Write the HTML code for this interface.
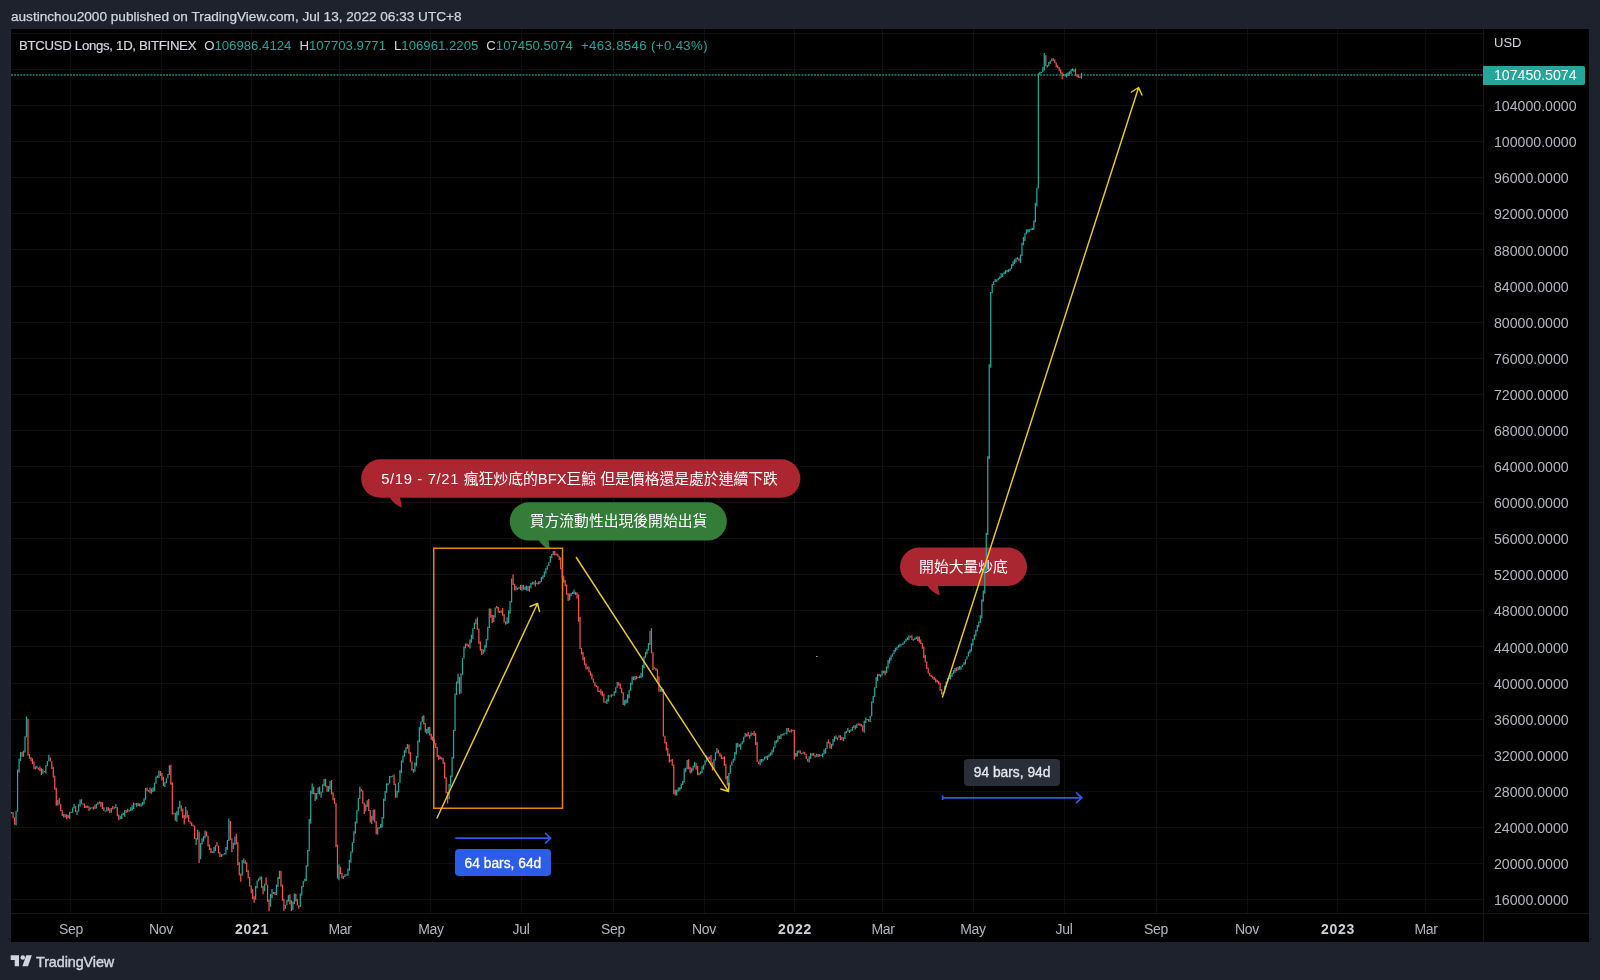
<!DOCTYPE html>
<html><head><meta charset="utf-8"><title>BTCUSD Longs</title>
<style>
html,body{margin:0;padding:0;background:#1e222d;}
body>div{will-change:transform;}
body{width:1600px;height:980px;position:relative;overflow:hidden;font-family:"Liberation Sans","Noto Sans CJK TC",sans-serif;color:#d1d4dc;}
#hdr{position:absolute;left:11px;top:8px;font-size:13.6px;line-height:17px;color:#d1d4dc;white-space:nowrap;-webkit-text-stroke:0.25px #d1d4dc;}
#chart{position:absolute;left:11px;top:29px;width:1578px;height:913px;background:#000;}
svg{position:absolute;left:0;top:0;}
#legend{position:absolute;left:19px;top:37px;font-size:13.2px;line-height:17px;white-space:nowrap;color:#d1d4dc;}
#legend b{font-weight:normal;color:#26a69a;}
#legend i{font-style:normal;margin-left:8px;}
#legend u{text-decoration:none;letter-spacing:-0.29px;-webkit-text-stroke:0.2px #d1d4dc;}
#legend b.w{letter-spacing:0.38px;}
.pl{position:absolute;left:1494px;font-size:14.15px;line-height:20px;color:#b2b5be;white-space:nowrap;}
.tl{position:absolute;top:919px;width:60px;text-align:center;font-size:14px;letter-spacing:-0.35px;line-height:20px;color:#b2b5be;}
.tl.b{font-weight:bold;color:#cdd0d8;letter-spacing:0.7px;}
#usd{position:absolute;left:1494px;top:33px;font-size:13px;line-height:20px;color:#d1d4dc;}
#cur{position:absolute;left:1483px;top:65.5px;width:102.3px;height:18.5px;background:#26a69a;border-radius:0 2px 2px 0;color:#fff;font-size:14.15px;line-height:19px;text-indent:11px;}
.co{position:absolute;color:#fff;font-size:14.8px;white-space:nowrap;text-align:center;border-radius:20px;}
#c1{left:359.6px;top:459.3px;width:439px;height:38.5px;line-height:40.5px;}
#c1 u{text-decoration:none;letter-spacing:0.65px;}
#c2{left:510px;top:502.2px;width:217px;height:38.5px;line-height:39px;}
#c3{left:900px;top:547.5px;width:127px;height:38.5px;line-height:38.5px;}
#b64{position:absolute;left:455.4px;top:849.4px;width:95.8px;height:26.8px;border-radius:4px;background:#2b5de8;color:#fff;font-size:13.8px;-webkit-text-stroke:0.3px #fff;line-height:29.6px;text-align:center;}
#b94{position:absolute;left:964px;top:759px;width:96.2px;height:26.9px;border-radius:4px;background:#2a2e39;color:#e6e8ee;font-size:13.8px;-webkit-text-stroke:0.3px #e6e8ee;line-height:28px;text-align:center;}
#tv{position:absolute;left:35.6px;top:952.5px;font-size:14.4px;line-height:19px;color:#d1d4dc;-webkit-text-stroke:0.45px #d1d4dc;letter-spacing:-0.1px;}
</style></head><body>
<div id="hdr">austinchou2000 published on TradingView.com, Jul 13, 2022 06:33 UTC+8</div>
<div id="chart"></div>
<svg width="1600" height="980" viewBox="0 0 1600 980">
<g stroke="#0f0f0f" stroke-width="1" fill="none" shape-rendering="crispEdges"><path d="M70.5 29V913.5"/><path d="M161.5 29V913.5"/><path d="M251.5 29V913.5"/><path d="M339.5 29V913.5"/><path d="M430.5 29V913.5"/><path d="M521.5 29V913.5"/><path d="M613.5 29V913.5"/><path d="M704.5 29V913.5"/><path d="M794.5 29V913.5"/><path d="M882.5 29V913.5"/><path d="M973.5 29V913.5"/><path d="M1064.5 29V913.5"/><path d="M1156.5 29V913.5"/><path d="M1247.5 29V913.5"/><path d="M1337.5 29V913.5"/><path d="M1425.5 29V913.5"/><path d="M11 33.5H1483.5"/><path d="M11 69.5H1483.5"/><path d="M11 105.5H1483.5"/><path d="M11 141.5H1483.5"/><path d="M11 177.5H1483.5"/><path d="M11 213.5H1483.5"/><path d="M11 249.5H1483.5"/><path d="M11 286.5H1483.5"/><path d="M11 322.5H1483.5"/><path d="M11 358.5H1483.5"/><path d="M11 394.5H1483.5"/><path d="M11 430.5H1483.5"/><path d="M11 466.5H1483.5"/><path d="M11 502.5H1483.5"/><path d="M11 538.5H1483.5"/><path d="M11 574.5H1483.5"/><path d="M11 610.5H1483.5"/><path d="M11 646.5H1483.5"/><path d="M11 683.5H1483.5"/><path d="M11 719.5H1483.5"/><path d="M11 755.5H1483.5"/><path d="M11 791.5H1483.5"/><path d="M11 827.5H1483.5"/><path d="M11 863.5H1483.5"/><path d="M11 899.5H1483.5"/></g>
<g stroke="#171717" stroke-width="1" fill="none" shape-rendering="crispEdges"><path d="M1483.5 29V942"/><path d="M11 913.5H1589"/></g>
<path d="M11 75H1483.5" stroke="#26a69a" stroke-width="1.6" stroke-dasharray="2 1.1" stroke-opacity=".8" fill="none"/>
<rect x="361.2" y="459.3" width="439.2" height="38.5" rx="19.25" fill="#ab2631"/><rect x="509.8" y="502.2" width="217" height="38.4" rx="19.2" fill="#347d39"/><rect x="900" y="547.5" width="127" height="38.5" rx="19.25" fill="#ab2631"/>
<path fill="#ab2631" d="M389.7 497.3C392.5 502.5 396.5 505.5 402 507.5L400 497.3z"/>
<path fill="#347d39" d="M538.6 540C541 544.5 545 547.6 550 549.7L548.4 540z"/>
<path fill="#ab2631" d="M927.5 585.5C930 590 934 593.3 939.7 595.4L938 585.5z"/>
<rect x="816.3" y="656" width="1.2" height="1" fill="#ddd"/>
<g fill="#d1d4dc"><path d="M10.7 955.2H19V966.2H14.7V960H10.7z"/><circle cx="22.8" cy="957.5" r="2.25"/><path d="M26.3 955.2H31.8L28 966.2H22.4z"/></g>
</svg>
<div class="co" id="c1"><u>5/19 - 7/21 </u>瘋狂炒底的BFX巨鯨 但是價格還是處於連續下跌</div>
<div class="co" id="c2">買方流動性出現後開始出貨</div>
<div class="co" id="c3">開始大量炒底</div>
<svg width="1600" height="980" viewBox="0 0 1600 980">
<rect x="433.75" y="548.25" width="128.75" height="260" fill="none" stroke="#e2880f" stroke-width="1.5"/>
<path fill="#26a69a" d="M11.00 811.89h1.25V813.87h-1.25zM15.46 810.68h1.25V825.22h-1.25zM16.95 769.39h1.25V811.76h-1.25zM18.44 758.65h1.25V772.51h-1.25zM19.93 751.94h1.25V761.05h-1.25zM22.90 750.68h1.25V756.69h-1.25zM24.39 736.15h1.25V752.59h-1.25zM25.88 716.61h1.25V737.23h-1.25zM34.81 766.41h1.25V769.40h-1.25zM36.30 765.64h1.25V768.43h-1.25zM42.25 769.21h1.25V773.66h-1.25zM45.22 765.37h1.25V773.38h-1.25zM46.71 761.09h1.25V766.15h-1.25zM48.20 754.87h1.25V761.41h-1.25zM57.13 799.95h1.25V805.60h-1.25zM64.57 814.35h1.25V817.58h-1.25zM69.03 811.69h1.25V818.64h-1.25zM72.01 807.41h1.25V812.84h-1.25zM73.50 804.07h1.25V808.18h-1.25zM76.47 810.60h1.25V814.92h-1.25zM77.96 804.37h1.25V811.54h-1.25zM79.45 799.57h1.25V806.59h-1.25zM82.42 803.55h1.25V804.77h-1.25zM89.86 807.43h1.25V809.55h-1.25zM92.84 806.39h1.25V809.81h-1.25zM95.82 803.83h1.25V808.42h-1.25zM97.30 802.09h1.25V804.83h-1.25zM104.74 810.44h1.25V811.68h-1.25zM106.23 806.66h1.25V811.44h-1.25zM110.70 808.02h1.25V812.63h-1.25zM113.67 806.96h1.25V808.75h-1.25zM115.16 804.31h1.25V808.26h-1.25zM119.62 815.76h1.25V819.21h-1.25zM121.11 813.82h1.25V818.90h-1.25zM122.60 812.72h1.25V815.36h-1.25zM124.09 810.05h1.25V816.65h-1.25zM127.06 808.87h1.25V812.24h-1.25zM130.04 807.32h1.25V810.95h-1.25zM131.53 805.32h1.25V810.55h-1.25zM133.02 802.39h1.25V809.05h-1.25zM135.99 803.08h1.25V806.71h-1.25zM140.46 803.41h1.25V806.72h-1.25zM141.94 801.99h1.25V805.39h-1.25zM143.43 798.35h1.25V804.35h-1.25zM144.92 787.93h1.25V799.66h-1.25zM147.90 790.08h1.25V791.85h-1.25zM150.87 788.55h1.25V793.73h-1.25zM152.36 787.58h1.25V791.93h-1.25zM153.85 782.76h1.25V791.19h-1.25zM155.34 776.51h1.25V783.70h-1.25zM156.82 775.62h1.25V777.85h-1.25zM158.31 770.43h1.25V777.98h-1.25zM164.26 782.29h1.25V787.08h-1.25zM165.75 778.18h1.25V783.32h-1.25zM167.24 773.99h1.25V778.52h-1.25zM168.73 765.28h1.25V775.10h-1.25zM173.19 812.63h1.25V814.26h-1.25zM176.17 811.31h1.25V821.84h-1.25zM177.66 806.82h1.25V815.24h-1.25zM179.14 800.82h1.25V808.46h-1.25zM185.10 806.81h1.25V818.74h-1.25zM195.51 838.03h1.25V845.00h-1.25zM197.00 829.84h1.25V839.73h-1.25zM199.98 842.97h1.25V859.35h-1.25zM201.46 838.34h1.25V844.62h-1.25zM202.95 836.37h1.25V841.57h-1.25zM204.44 830.61h1.25V838.13h-1.25zM211.88 851.21h1.25V853.02h-1.25zM213.37 847.01h1.25V853.22h-1.25zM214.86 845.27h1.25V851.34h-1.25zM220.81 854.05h1.25V857.07h-1.25zM222.30 854.31h1.25V855.51h-1.25zM223.78 853.10h1.25V854.40h-1.25zM225.27 847.07h1.25V854.61h-1.25zM226.76 840.07h1.25V849.65h-1.25zM228.25 818.59h1.25V840.89h-1.25zM232.71 842.79h1.25V849.04h-1.25zM234.20 836.59h1.25V845.04h-1.25zM241.64 860.19h1.25V875.81h-1.25zM243.13 858.39h1.25V863.26h-1.25zM255.03 885.94h1.25V899.69h-1.25zM256.52 880.47h1.25V888.33h-1.25zM258.01 878.30h1.25V881.20h-1.25zM259.50 876.62h1.25V879.67h-1.25zM263.96 883.77h1.25V891.22h-1.25zM269.91 894.00h1.25V906.71h-1.25zM271.40 889.08h1.25V897.94h-1.25zM275.86 884.44h1.25V895.27h-1.25zM277.35 876.95h1.25V887.01h-1.25zM278.84 870.69h1.25V879.05h-1.25zM284.79 904.65h1.25V908.74h-1.25zM286.28 899.88h1.25V905.23h-1.25zM287.77 895.32h1.25V901.54h-1.25zM292.23 901.52h1.25V909.97h-1.25zM293.72 893.42h1.25V903.93h-1.25zM299.67 893.62h1.25V907.00h-1.25zM301.16 885.89h1.25V895.63h-1.25zM302.65 881.08h1.25V887.03h-1.25zM304.14 878.85h1.25V881.41h-1.25zM305.62 865.17h1.25V880.89h-1.25zM307.11 850.05h1.25V866.63h-1.25zM308.60 819.05h1.25V851.25h-1.25zM310.09 790.45h1.25V823.81h-1.25zM311.58 783.55h1.25V793.98h-1.25zM316.04 792.94h1.25V799.58h-1.25zM317.53 787.57h1.25V793.72h-1.25zM320.50 791.67h1.25V797.69h-1.25zM321.99 784.37h1.25V792.43h-1.25zM323.48 779.10h1.25V785.96h-1.25zM327.94 786.06h1.25V791.83h-1.25zM329.43 780.99h1.25V789.27h-1.25zM338.36 864.48h1.25V880.29h-1.25zM342.82 876.08h1.25V879.05h-1.25zM344.31 874.19h1.25V877.08h-1.25zM345.80 874.19h1.25V875.39h-1.25zM347.29 868.55h1.25V876.00h-1.25zM348.78 859.86h1.25V870.73h-1.25zM350.26 851.49h1.25V862.69h-1.25zM351.75 842.18h1.25V852.62h-1.25zM353.24 831.22h1.25V843.08h-1.25zM354.73 821.39h1.25V833.61h-1.25zM356.22 810.20h1.25V823.41h-1.25zM357.70 798.10h1.25V811.24h-1.25zM359.19 786.87h1.25V799.24h-1.25zM365.14 804.49h1.25V811.39h-1.25zM366.63 800.33h1.25V807.03h-1.25zM371.10 815.96h1.25V824.07h-1.25zM372.58 809.82h1.25V820.54h-1.25zM377.05 827.65h1.25V834.69h-1.25zM378.54 827.12h1.25V828.73h-1.25zM380.02 823.90h1.25V827.76h-1.25zM381.51 817.08h1.25V827.68h-1.25zM383.00 798.75h1.25V818.43h-1.25zM384.49 791.06h1.25V800.91h-1.25zM385.98 783.13h1.25V792.75h-1.25zM387.46 783.32h1.25V785.25h-1.25zM388.95 775.98h1.25V783.59h-1.25zM390.44 775.93h1.25V777.59h-1.25zM391.93 775.62h1.25V776.82h-1.25zM396.39 790.72h1.25V797.70h-1.25zM397.88 782.60h1.25V792.59h-1.25zM399.37 770.09h1.25V782.74h-1.25zM400.86 760.57h1.25V773.20h-1.25zM402.34 755.50h1.25V762.53h-1.25zM403.83 750.24h1.25V756.87h-1.25zM405.32 747.25h1.25V752.70h-1.25zM406.81 744.09h1.25V748.72h-1.25zM412.76 769.01h1.25V772.79h-1.25zM414.25 762.48h1.25V771.72h-1.25zM415.74 756.01h1.25V766.29h-1.25zM417.22 740.53h1.25V757.78h-1.25zM418.71 726.80h1.25V742.16h-1.25zM420.20 721.43h1.25V730.37h-1.25zM421.69 716.24h1.25V722.00h-1.25zM426.15 728.91h1.25V734.06h-1.25zM427.64 727.00h1.25V733.31h-1.25zM441.03 757.22h1.25V759.59h-1.25zM448.47 784.04h1.25V799.24h-1.25zM449.96 775.56h1.25V786.80h-1.25zM451.45 756.93h1.25V777.14h-1.25zM452.94 729.68h1.25V758.62h-1.25zM454.42 693.62h1.25V731.09h-1.25zM455.91 681.62h1.25V695.09h-1.25zM457.40 673.80h1.25V683.79h-1.25zM460.38 673.43h1.25V693.53h-1.25zM461.86 657.94h1.25V674.66h-1.25zM463.35 646.60h1.25V658.57h-1.25zM464.84 643.48h1.25V648.57h-1.25zM469.30 639.49h1.25V648.58h-1.25zM470.79 634.85h1.25V642.80h-1.25zM472.28 628.31h1.25V638.97h-1.25zM473.77 622.42h1.25V628.95h-1.25zM475.26 619.17h1.25V624.20h-1.25zM482.70 649.58h1.25V653.65h-1.25zM484.18 645.00h1.25V651.72h-1.25zM485.67 638.91h1.25V647.86h-1.25zM487.16 626.78h1.25V640.15h-1.25zM488.65 608.57h1.25V628.03h-1.25zM493.11 615.13h1.25V621.98h-1.25zM494.60 607.42h1.25V617.45h-1.25zM500.55 610.15h1.25V613.02h-1.25zM505.02 621.57h1.25V624.72h-1.25zM506.50 617.41h1.25V623.96h-1.25zM507.99 610.15h1.25V623.00h-1.25zM509.48 600.89h1.25V613.70h-1.25zM510.97 578.41h1.25V602.53h-1.25zM515.43 585.88h1.25V590.36h-1.25zM518.41 587.12h1.25V588.87h-1.25zM521.38 584.88h1.25V590.66h-1.25zM524.36 586.55h1.25V590.09h-1.25zM525.85 585.56h1.25V590.60h-1.25zM528.82 585.68h1.25V591.70h-1.25zM530.31 583.10h1.25V588.15h-1.25zM531.80 581.78h1.25V584.42h-1.25zM534.78 580.22h1.25V586.52h-1.25zM536.26 582.82h1.25V584.02h-1.25zM539.24 581.36h1.25V583.69h-1.25zM540.73 577.07h1.25V581.95h-1.25zM542.22 575.28h1.25V579.25h-1.25zM543.70 571.53h1.25V577.01h-1.25zM545.19 568.32h1.25V573.81h-1.25zM546.68 565.49h1.25V569.63h-1.25zM548.17 562.16h1.25V566.02h-1.25zM549.66 556.09h1.25V562.73h-1.25zM551.14 553.90h1.25V558.13h-1.25zM552.63 551.00h1.25V554.94h-1.25zM569.00 593.62h1.25V600.19h-1.25zM570.49 593.12h1.25V596.24h-1.25zM571.98 591.82h1.25V594.01h-1.25zM573.46 589.40h1.25V593.94h-1.25zM586.86 666.63h1.25V669.13h-1.25zM606.20 699.26h1.25V704.10h-1.25zM607.69 695.08h1.25V701.78h-1.25zM610.66 694.21h1.25V697.42h-1.25zM613.64 691.23h1.25V695.87h-1.25zM615.13 687.29h1.25V692.94h-1.25zM616.62 681.94h1.25V687.85h-1.25zM624.06 700.00h1.25V705.65h-1.25zM625.54 699.26h1.25V703.41h-1.25zM627.03 694.21h1.25V702.70h-1.25zM628.52 689.81h1.25V698.37h-1.25zM630.01 682.84h1.25V690.75h-1.25zM631.50 676.41h1.25V684.75h-1.25zM634.47 675.91h1.25V680.21h-1.25zM637.45 676.92h1.25V678.12h-1.25zM638.94 675.60h1.25V678.28h-1.25zM640.42 672.68h1.25V678.21h-1.25zM641.91 664.95h1.25V676.97h-1.25zM643.40 656.51h1.25V668.01h-1.25zM644.89 651.77h1.25V657.84h-1.25zM646.38 649.27h1.25V654.32h-1.25zM647.86 642.89h1.25V650.53h-1.25zM649.35 630.82h1.25V644.97h-1.25zM659.77 688.74h1.25V691.77h-1.25zM676.14 789.80h1.25V795.38h-1.25zM677.62 787.46h1.25V791.65h-1.25zM679.11 787.37h1.25V790.87h-1.25zM680.60 783.48h1.25V788.92h-1.25zM682.09 780.94h1.25V785.00h-1.25zM683.58 768.51h1.25V782.55h-1.25zM685.06 767.63h1.25V772.15h-1.25zM686.55 760.03h1.25V769.30h-1.25zM691.02 768.16h1.25V772.70h-1.25zM692.50 765.82h1.25V770.70h-1.25zM693.99 761.98h1.25V767.50h-1.25zM699.94 771.17h1.25V774.28h-1.25zM701.43 766.19h1.25V772.97h-1.25zM702.92 764.75h1.25V769.45h-1.25zM704.41 760.57h1.25V765.49h-1.25zM705.90 755.61h1.25V761.63h-1.25zM708.87 756.64h1.25V759.47h-1.25zM713.34 759.30h1.25V769.07h-1.25zM714.82 752.16h1.25V760.47h-1.25zM716.31 747.99h1.25V753.38h-1.25zM728.22 772.89h1.25V783.81h-1.25zM729.70 765.11h1.25V773.80h-1.25zM731.19 761.52h1.25V765.83h-1.25zM732.68 758.83h1.25V762.48h-1.25zM734.17 751.92h1.25V760.47h-1.25zM735.66 743.37h1.25V754.45h-1.25zM737.14 742.74h1.25V747.38h-1.25zM740.12 743.53h1.25V749.80h-1.25zM741.61 741.32h1.25V744.22h-1.25zM743.10 736.74h1.25V742.62h-1.25zM744.58 733.09h1.25V737.53h-1.25zM749.05 734.93h1.25V738.67h-1.25zM750.54 732.31h1.25V736.13h-1.25zM759.46 759.19h1.25V765.18h-1.25zM760.95 758.94h1.25V762.49h-1.25zM762.44 759.01h1.25V761.24h-1.25zM763.93 756.64h1.25V759.78h-1.25zM765.42 756.05h1.25V758.43h-1.25zM766.90 755.43h1.25V759.88h-1.25zM768.39 754.19h1.25V757.21h-1.25zM769.88 752.38h1.25V755.88h-1.25zM771.37 749.63h1.25V754.87h-1.25zM772.86 746.86h1.25V752.15h-1.25zM774.34 740.82h1.25V747.65h-1.25zM775.83 740.25h1.25V743.23h-1.25zM777.32 735.48h1.25V742.06h-1.25zM780.30 734.33h1.25V739.23h-1.25zM781.78 734.01h1.25V735.52h-1.25zM783.27 732.97h1.25V735.55h-1.25zM786.25 728.03h1.25V734.61h-1.25zM790.71 729.23h1.25V732.46h-1.25zM795.18 753.01h1.25V757.12h-1.25zM796.66 750.67h1.25V756.32h-1.25zM798.15 750.20h1.25V752.69h-1.25zM801.13 752.94h1.25V754.14h-1.25zM802.62 751.73h1.25V753.56h-1.25zM808.57 756.14h1.25V762.58h-1.25zM810.06 753.06h1.25V758.87h-1.25zM816.01 753.84h1.25V756.75h-1.25zM818.98 754.30h1.25V756.59h-1.25zM820.47 754.71h1.25V755.91h-1.25zM821.96 753.23h1.25V757.34h-1.25zM823.45 749.39h1.25V754.60h-1.25zM824.94 747.96h1.25V753.54h-1.25zM826.42 741.68h1.25V748.72h-1.25zM830.89 744.05h1.25V748.92h-1.25zM832.38 739.03h1.25V745.74h-1.25zM833.86 736.22h1.25V741.71h-1.25zM836.84 737.45h1.25V740.20h-1.25zM838.33 735.14h1.25V737.82h-1.25zM842.79 737.36h1.25V741.18h-1.25zM844.28 731.83h1.25V739.32h-1.25zM845.77 731.01h1.25V733.17h-1.25zM847.26 727.90h1.25V731.79h-1.25zM850.23 729.40h1.25V731.76h-1.25zM851.72 726.66h1.25V730.42h-1.25zM854.70 725.27h1.25V729.55h-1.25zM856.18 723.69h1.25V727.92h-1.25zM863.62 720.77h1.25V732.66h-1.25zM865.11 717.40h1.25V723.01h-1.25zM866.60 718.89h1.25V720.09h-1.25zM869.58 715.87h1.25V721.91h-1.25zM871.06 701.39h1.25V716.26h-1.25zM872.55 695.89h1.25V702.91h-1.25zM874.04 687.34h1.25V696.99h-1.25zM875.53 677.07h1.25V688.02h-1.25zM877.02 674.04h1.25V681.01h-1.25zM879.99 674.60h1.25V677.15h-1.25zM881.48 670.46h1.25V675.64h-1.25zM885.94 666.46h1.25V673.34h-1.25zM887.43 659.93h1.25V668.58h-1.25zM888.92 657.56h1.25V663.50h-1.25zM890.41 655.18h1.25V660.53h-1.25zM891.90 653.39h1.25V656.85h-1.25zM893.38 650.01h1.25V654.09h-1.25zM894.87 647.74h1.25V651.71h-1.25zM896.36 646.85h1.25V650.10h-1.25zM897.85 644.64h1.25V647.70h-1.25zM899.34 643.64h1.25V647.02h-1.25zM900.82 644.35h1.25V645.55h-1.25zM902.31 642.50h1.25V644.88h-1.25zM903.80 640.70h1.25V643.77h-1.25zM905.29 638.63h1.25V641.85h-1.25zM906.78 637.32h1.25V640.06h-1.25zM908.26 635.35h1.25V640.20h-1.25zM912.73 639.09h1.25V640.65h-1.25zM914.22 637.78h1.25V640.11h-1.25zM915.70 636.58h1.25V639.00h-1.25zM942.49 692.03h1.25V695.13h-1.25zM943.98 685.73h1.25V692.85h-1.25zM945.46 681.42h1.25V687.12h-1.25zM946.95 678.07h1.25V682.43h-1.25zM948.44 676.72h1.25V678.93h-1.25zM949.93 674.69h1.25V679.54h-1.25zM951.42 673.09h1.25V676.69h-1.25zM952.90 670.03h1.25V673.67h-1.25zM954.39 668.00h1.25V672.87h-1.25zM957.37 666.87h1.25V670.49h-1.25zM958.86 666.07h1.25V669.66h-1.25zM960.34 666.44h1.25V669.80h-1.25zM961.83 664.80h1.25V666.89h-1.25zM963.32 662.16h1.25V665.27h-1.25zM964.81 659.28h1.25V664.55h-1.25zM966.30 656.22h1.25V659.54h-1.25zM967.78 651.46h1.25V656.50h-1.25zM969.27 649.31h1.25V653.24h-1.25zM970.76 643.15h1.25V651.39h-1.25zM972.25 638.91h1.25V645.86h-1.25zM973.74 634.39h1.25V639.68h-1.25zM975.22 629.83h1.25V636.50h-1.25zM976.71 625.12h1.25V631.44h-1.25zM978.20 621.59h1.25V627.36h-1.25zM979.69 615.25h1.25V623.12h-1.25zM981.18 599.56h1.25V618.47h-1.25zM982.66 590.46h1.25V601.87h-1.25zM984.15 568.40h1.25V593.75h-1.25zM985.64 532.86h1.25V571.97h-1.25zM987.13 456.23h1.25V535.11h-1.25zM988.62 364.28h1.25V459.10h-1.25zM990.10 291.97h1.25V367.75h-1.25zM991.59 283.99h1.25V293.32h-1.25zM993.08 281.15h1.25V285.09h-1.25zM994.57 278.89h1.25V282.12h-1.25zM996.06 279.49h1.25V281.84h-1.25zM997.54 278.01h1.25V280.36h-1.25zM999.03 276.47h1.25V278.82h-1.25zM1000.52 272.98h1.25V277.92h-1.25zM1002.01 273.48h1.25V276.88h-1.25zM1003.50 271.78h1.25V274.41h-1.25zM1004.98 270.26h1.25V273.89h-1.25zM1006.47 270.11h1.25V272.28h-1.25zM1007.96 269.15h1.25V272.16h-1.25zM1009.45 268.43h1.25V270.93h-1.25zM1010.94 264.05h1.25V269.10h-1.25zM1012.42 261.26h1.25V266.02h-1.25zM1013.91 259.16h1.25V264.12h-1.25zM1015.40 257.65h1.25V262.35h-1.25zM1019.86 254.60h1.25V262.98h-1.25zM1021.35 242.71h1.25V256.10h-1.25zM1022.84 236.93h1.25V245.14h-1.25zM1024.33 233.13h1.25V241.08h-1.25zM1025.82 229.58h1.25V234.14h-1.25zM1027.30 229.08h1.25V232.50h-1.25zM1028.79 229.29h1.25V231.79h-1.25zM1030.28 228.62h1.25V230.29h-1.25zM1031.77 227.95h1.25V229.90h-1.25zM1033.26 220.53h1.25V229.89h-1.25zM1034.74 202.67h1.25V222.24h-1.25zM1036.23 187.81h1.25V206.20h-1.25zM1037.72 73.28h1.25V188.41h-1.25zM1039.21 71.70h1.25V74.96h-1.25zM1040.70 72.04h1.25V73.24h-1.25zM1042.18 66.90h1.25V72.16h-1.25zM1043.67 52.95h1.25V70.49h-1.25zM1046.65 64.94h1.25V67.67h-1.25zM1048.14 61.93h1.25V66.30h-1.25zM1049.62 60.62h1.25V63.65h-1.25zM1051.11 58.50h1.25V61.33h-1.25zM1064.50 74.01h1.25V76.49h-1.25zM1065.99 73.23h1.25V77.45h-1.25zM1067.48 72.37h1.25V75.91h-1.25zM1068.97 71.22h1.25V74.58h-1.25zM1070.46 69.28h1.25V73.82h-1.25zM1071.94 68.20h1.25V71.00h-1.25zM1073.43 69.29h1.25V71.93h-1.25zM1080.87 72.64h1.25V78.84h-1.25z"/>
<path fill="#ef5350" d="M12.49 812.23h1.25V818.26h-1.25zM13.98 817.42h1.25V824.77h-1.25zM21.42 751.91h1.25V756.77h-1.25zM27.37 718.83h1.25V755.55h-1.25zM28.86 754.10h1.25V758.80h-1.25zM30.34 757.20h1.25V761.28h-1.25zM31.83 758.21h1.25V764.03h-1.25zM33.32 761.56h1.25V769.19h-1.25zM37.78 767.41h1.25V769.69h-1.25zM39.27 766.50h1.25V771.06h-1.25zM40.76 768.27h1.25V775.06h-1.25zM43.74 770.95h1.25V772.15h-1.25zM49.69 757.62h1.25V761.51h-1.25zM51.18 761.13h1.25V769.02h-1.25zM52.66 767.20h1.25V777.44h-1.25zM54.15 775.66h1.25V789.70h-1.25zM55.64 787.74h1.25V805.67h-1.25zM58.62 797.99h1.25V804.61h-1.25zM60.10 804.07h1.25V810.99h-1.25zM61.59 809.97h1.25V816.01h-1.25zM63.08 813.78h1.25V817.61h-1.25zM66.06 814.22h1.25V819.21h-1.25zM67.54 814.92h1.25V817.95h-1.25zM70.52 811.71h1.25V812.91h-1.25zM74.98 806.37h1.25V811.88h-1.25zM80.94 799.16h1.25V803.95h-1.25zM83.91 803.39h1.25V808.31h-1.25zM85.40 805.78h1.25V807.88h-1.25zM86.89 805.57h1.25V807.74h-1.25zM88.38 806.29h1.25V811.04h-1.25zM91.35 807.20h1.25V808.40h-1.25zM94.33 804.43h1.25V808.97h-1.25zM98.79 801.54h1.25V803.82h-1.25zM100.28 801.81h1.25V806.86h-1.25zM101.77 802.31h1.25V809.01h-1.25zM103.26 807.31h1.25V811.07h-1.25zM107.72 807.24h1.25V810.80h-1.25zM109.21 808.14h1.25V813.03h-1.25zM112.18 806.12h1.25V809.61h-1.25zM116.65 807.04h1.25V816.23h-1.25zM118.14 814.51h1.25V820.36h-1.25zM125.58 810.13h1.25V812.88h-1.25zM128.55 809.80h1.25V811.39h-1.25zM134.50 803.44h1.25V804.64h-1.25zM137.48 802.73h1.25V806.09h-1.25zM138.97 803.38h1.25V806.21h-1.25zM146.41 787.61h1.25V791.36h-1.25zM149.38 787.38h1.25V793.25h-1.25zM159.80 770.94h1.25V775.97h-1.25zM161.29 773.08h1.25V780.45h-1.25zM162.78 776.71h1.25V785.99h-1.25zM170.22 764.69h1.25V784.74h-1.25zM171.70 782.36h1.25V814.44h-1.25zM174.68 812.87h1.25V820.68h-1.25zM180.63 805.24h1.25V811.42h-1.25zM182.12 808.40h1.25V817.92h-1.25zM183.61 815.06h1.25V824.54h-1.25zM186.58 810.49h1.25V817.72h-1.25zM188.07 815.05h1.25V822.06h-1.25zM189.56 821.28h1.25V823.73h-1.25zM191.05 822.42h1.25V826.03h-1.25zM192.54 824.83h1.25V826.62h-1.25zM194.02 825.81h1.25V838.91h-1.25zM198.49 831.51h1.25V863.02h-1.25zM205.93 831.58h1.25V836.50h-1.25zM207.42 835.66h1.25V846.39h-1.25zM208.90 844.58h1.25V849.93h-1.25zM210.39 848.05h1.25V853.37h-1.25zM216.34 842.24h1.25V846.16h-1.25zM217.83 845.64h1.25V853.42h-1.25zM219.32 852.36h1.25V857.11h-1.25zM229.74 821.02h1.25V840.03h-1.25zM231.22 838.27h1.25V852.19h-1.25zM235.69 833.72h1.25V844.38h-1.25zM237.18 842.20h1.25V865.14h-1.25zM238.66 862.19h1.25V875.44h-1.25zM240.15 873.45h1.25V881.76h-1.25zM244.62 860.37h1.25V864.09h-1.25zM246.10 862.18h1.25V871.90h-1.25zM247.59 870.17h1.25V878.21h-1.25zM249.08 876.92h1.25V886.57h-1.25zM250.57 885.62h1.25V893.33h-1.25zM252.06 889.26h1.25V899.13h-1.25zM253.54 896.14h1.25V902.74h-1.25zM260.98 876.44h1.25V887.68h-1.25zM262.47 885.90h1.25V894.14h-1.25zM265.45 877.21h1.25V885.20h-1.25zM266.94 884.67h1.25V901.86h-1.25zM268.42 899.62h1.25V911.30h-1.25zM272.89 892.09h1.25V894.11h-1.25zM274.38 892.08h1.25V895.11h-1.25zM280.33 870.71h1.25V886.57h-1.25zM281.82 884.44h1.25V900.87h-1.25zM283.30 898.85h1.25V910.85h-1.25zM289.26 894.17h1.25V904.30h-1.25zM290.74 900.21h1.25V911.00h-1.25zM295.21 893.75h1.25V901.46h-1.25zM296.70 898.97h1.25V905.40h-1.25zM298.18 905.19h1.25V908.81h-1.25zM313.06 786.65h1.25V794.25h-1.25zM314.55 792.89h1.25V801.02h-1.25zM319.02 786.61h1.25V794.39h-1.25zM324.97 778.63h1.25V786.64h-1.25zM326.46 785.79h1.25V791.69h-1.25zM330.92 780.12h1.25V794.57h-1.25zM332.41 792.32h1.25V800.31h-1.25zM333.90 797.97h1.25V804.11h-1.25zM335.38 803.16h1.25V847.08h-1.25zM336.87 844.39h1.25V878.48h-1.25zM339.85 866.84h1.25V874.27h-1.25zM341.34 872.80h1.25V878.43h-1.25zM360.68 788.82h1.25V791.41h-1.25zM362.17 790.43h1.25V803.81h-1.25zM363.66 802.63h1.25V814.02h-1.25zM368.12 799.05h1.25V811.11h-1.25zM369.61 810.12h1.25V822.38h-1.25zM374.07 809.55h1.25V822.29h-1.25zM375.56 821.18h1.25V834.24h-1.25zM393.42 774.49h1.25V785.10h-1.25zM394.90 783.85h1.25V797.65h-1.25zM408.30 744.52h1.25V753.85h-1.25zM409.78 752.34h1.25V762.46h-1.25zM411.27 761.80h1.25V770.44h-1.25zM423.18 715.19h1.25V724.32h-1.25zM424.66 723.04h1.25V732.51h-1.25zM429.13 726.68h1.25V735.42h-1.25zM430.62 733.75h1.25V739.71h-1.25zM432.10 736.56h1.25V741.01h-1.25zM433.59 738.42h1.25V744.84h-1.25zM435.08 743.18h1.25V747.89h-1.25zM436.57 747.09h1.25V756.94h-1.25zM438.06 755.02h1.25V759.73h-1.25zM439.54 756.26h1.25V759.18h-1.25zM442.52 758.11h1.25V763.91h-1.25zM444.01 762.23h1.25V778.42h-1.25zM445.50 777.23h1.25V793.22h-1.25zM446.98 791.96h1.25V803.45h-1.25zM458.89 677.01h1.25V694.21h-1.25zM466.33 643.47h1.25V645.96h-1.25zM467.82 644.54h1.25V647.11h-1.25zM476.74 617.18h1.25V629.85h-1.25zM478.23 628.39h1.25V643.73h-1.25zM479.72 641.45h1.25V650.86h-1.25zM481.21 649.00h1.25V654.92h-1.25zM490.14 608.52h1.25V617.84h-1.25zM491.62 615.05h1.25V622.92h-1.25zM496.09 606.05h1.25V608.49h-1.25zM497.58 607.05h1.25V612.40h-1.25zM499.06 610.77h1.25V612.99h-1.25zM502.04 607.93h1.25V615.78h-1.25zM503.53 614.21h1.25V622.53h-1.25zM512.46 574.47h1.25V584.93h-1.25zM513.94 583.64h1.25V590.59h-1.25zM516.92 587.67h1.25V589.75h-1.25zM519.90 585.11h1.25V589.92h-1.25zM522.87 584.93h1.25V589.74h-1.25zM527.34 585.94h1.25V591.00h-1.25zM533.29 581.65h1.25V584.40h-1.25zM537.75 581.50h1.25V584.61h-1.25zM554.12 551.00h1.25V555.38h-1.25zM555.61 553.50h1.25V555.17h-1.25zM557.10 553.67h1.25V556.52h-1.25zM558.58 555.86h1.25V560.04h-1.25zM560.07 557.30h1.25V569.21h-1.25zM561.56 567.69h1.25V578.37h-1.25zM563.05 575.87h1.25V582.58h-1.25zM564.54 579.95h1.25V586.19h-1.25zM566.02 584.46h1.25V594.76h-1.25zM567.51 593.29h1.25V601.11h-1.25zM574.95 591.70h1.25V594.93h-1.25zM576.44 592.59h1.25V598.43h-1.25zM577.93 594.50h1.25V621.63h-1.25zM579.42 616.80h1.25V648.91h-1.25zM580.90 647.80h1.25V654.56h-1.25zM582.39 651.91h1.25V660.18h-1.25zM583.88 657.08h1.25V665.23h-1.25zM585.37 663.52h1.25V669.58h-1.25zM588.34 666.40h1.25V672.21h-1.25zM589.83 671.16h1.25V675.75h-1.25zM591.32 673.43h1.25V679.61h-1.25zM592.81 678.70h1.25V682.69h-1.25zM594.30 682.24h1.25V686.31h-1.25zM595.78 685.13h1.25V686.90h-1.25zM597.27 686.20h1.25V692.12h-1.25zM598.76 690.82h1.25V692.02h-1.25zM600.25 689.18h1.25V694.47h-1.25zM601.74 691.19h1.25V696.28h-1.25zM603.22 693.83h1.25V702.41h-1.25zM604.71 701.53h1.25V702.82h-1.25zM609.18 695.42h1.25V696.62h-1.25zM612.15 694.61h1.25V695.81h-1.25zM618.10 682.35h1.25V685.41h-1.25zM619.59 683.52h1.25V689.05h-1.25zM621.08 688.35h1.25V693.34h-1.25zM622.57 692.22h1.25V705.01h-1.25zM632.98 676.47h1.25V680.09h-1.25zM635.96 676.00h1.25V679.14h-1.25zM650.84 628.17h1.25V653.17h-1.25zM652.33 652.13h1.25V670.07h-1.25zM653.82 667.28h1.25V668.73h-1.25zM655.30 668.01h1.25V670.68h-1.25zM656.79 669.31h1.25V680.75h-1.25zM658.28 676.36h1.25V691.83h-1.25zM661.26 687.37h1.25V691.95h-1.25zM662.74 689.06h1.25V736.58h-1.25zM664.23 735.70h1.25V743.54h-1.25zM665.72 742.07h1.25V750.49h-1.25zM667.21 747.95h1.25V756.12h-1.25zM668.70 753.86h1.25V762.48h-1.25zM670.18 759.79h1.25V761.62h-1.25zM671.67 759.11h1.25V765.80h-1.25zM673.16 764.61h1.25V794.09h-1.25zM674.65 789.81h1.25V795.59h-1.25zM688.04 759.13h1.25V769.35h-1.25zM689.53 767.05h1.25V773.48h-1.25zM695.48 762.68h1.25V769.85h-1.25zM696.97 765.77h1.25V775.32h-1.25zM698.46 772.59h1.25V775.18h-1.25zM707.38 756.75h1.25V759.80h-1.25zM710.36 755.09h1.25V764.30h-1.25zM711.85 762.34h1.25V770.49h-1.25zM717.80 749.63h1.25V753.21h-1.25zM719.29 752.84h1.25V756.59h-1.25zM720.78 754.56h1.25V759.33h-1.25zM722.26 757.29h1.25V759.10h-1.25zM723.75 756.37h1.25V765.64h-1.25zM725.24 763.83h1.25V779.22h-1.25zM726.73 776.04h1.25V785.50h-1.25zM738.63 744.36h1.25V746.88h-1.25zM746.07 733.87h1.25V736.57h-1.25zM747.56 731.95h1.25V736.52h-1.25zM752.02 733.08h1.25V734.69h-1.25zM753.51 730.88h1.25V736.02h-1.25zM755.00 733.20h1.25V744.94h-1.25zM756.49 741.92h1.25V761.90h-1.25zM757.98 761.62h1.25V764.08h-1.25zM778.81 735.75h1.25V738.96h-1.25zM784.76 732.67h1.25V733.87h-1.25zM787.74 728.05h1.25V731.59h-1.25zM789.22 730.62h1.25V732.59h-1.25zM792.20 729.64h1.25V731.25h-1.25zM793.69 729.63h1.25V759.44h-1.25zM799.64 750.40h1.25V753.81h-1.25zM804.10 751.86h1.25V754.78h-1.25zM805.59 754.10h1.25V759.06h-1.25zM807.08 758.82h1.25V761.74h-1.25zM811.54 753.23h1.25V755.84h-1.25zM813.03 753.08h1.25V755.70h-1.25zM814.52 755.26h1.25V757.43h-1.25zM817.50 754.04h1.25V757.06h-1.25zM827.91 739.40h1.25V743.58h-1.25zM829.40 742.32h1.25V748.44h-1.25zM835.35 735.55h1.25V738.96h-1.25zM839.82 735.19h1.25V739.94h-1.25zM841.30 736.88h1.25V739.83h-1.25zM848.74 730.09h1.25V732.95h-1.25zM853.21 725.22h1.25V728.21h-1.25zM857.67 723.60h1.25V725.36h-1.25zM859.16 723.57h1.25V725.83h-1.25zM860.65 724.03h1.25V726.55h-1.25zM862.14 725.34h1.25V731.49h-1.25zM868.09 719.06h1.25V721.38h-1.25zM878.50 673.76h1.25V676.26h-1.25zM882.97 670.77h1.25V673.17h-1.25zM884.46 670.47h1.25V675.13h-1.25zM909.75 636.01h1.25V637.50h-1.25zM911.24 635.19h1.25V639.98h-1.25zM917.19 636.58h1.25V641.14h-1.25zM918.68 636.59h1.25V642.43h-1.25zM920.17 639.59h1.25V643.98h-1.25zM921.66 643.12h1.25V648.86h-1.25zM923.14 646.40h1.25V657.92h-1.25zM924.63 655.11h1.25V662.54h-1.25zM926.12 661.40h1.25V668.97h-1.25zM927.61 667.73h1.25V673.39h-1.25zM929.10 672.79h1.25V675.72h-1.25zM930.58 674.63h1.25V676.92h-1.25zM932.07 675.69h1.25V678.59h-1.25zM933.56 676.96h1.25V679.90h-1.25zM935.05 678.43h1.25V682.45h-1.25zM936.54 679.82h1.25V682.55h-1.25zM938.02 681.01h1.25V684.56h-1.25zM939.51 682.87h1.25V690.99h-1.25zM941.00 688.96h1.25V694.53h-1.25zM955.88 667.50h1.25V671.22h-1.25zM1016.89 257.33h1.25V259.58h-1.25zM1018.38 258.22h1.25V261.25h-1.25zM1045.16 55.35h1.25V66.21h-1.25zM1052.60 58.36h1.25V60.94h-1.25zM1054.09 59.53h1.25V63.34h-1.25zM1055.58 62.57h1.25V67.22h-1.25zM1057.06 65.17h1.25V68.35h-1.25zM1058.55 66.97h1.25V71.18h-1.25zM1060.04 69.52h1.25V73.86h-1.25zM1061.53 72.30h1.25V79.24h-1.25zM1063.02 73.63h1.25V75.96h-1.25zM1074.92 68.40h1.25V75.68h-1.25zM1076.41 74.45h1.25V77.28h-1.25zM1077.90 75.25h1.25V77.85h-1.25zM1079.38 76.57h1.25V78.07h-1.25z"/>
<g stroke="#e6c92f" stroke-width="1.45" fill="none" stroke-linecap="round" stroke-linejoin="round">
<path d="M437 818L537.5 603.5M530 606.5L537.5 603.5L539.5 611.5"/>
<path d="M576.3 557.5L728.5 791.5M720.8 789L728.5 791.5L729 783.5"/>
<path d="M942.5 697L1138.6 87.5M1131.5 92L1138.6 87.5L1142 95"/>
</g>
<g stroke="#2a5de6" stroke-width="1.7" fill="none" stroke-linejoin="miter">
<path d="M455.3 838.2H550.5M545 832.9L550.6 838.2L545 843.5"/>
<path d="M942.3 797.8H1081.6M942.6 795.2V800M1076 792.4L1081.8 797.8L1076 803.2"/>
</g>
</svg>
<div id="legend"><u>BTCUSD Longs, 1D, BITFINEX</u><i>O</i><b>106986.4124</b><i>H</i><b>107703.9771</b><i>L</i><b>106961.2205</b><i>C</i><b>107450.5074</b><i></i><b class="w">+463.8546 (+0.43%)</b></div>
<div id="usd">USD</div>
<div class="pl" style="top:96.1px">104000.0000</div><div class="pl" style="top:132.2px">100000.0000</div><div class="pl" style="top:168.3px">96000.0000</div><div class="pl" style="top:204.4px">92000.0000</div><div class="pl" style="top:240.5px">88000.0000</div><div class="pl" style="top:276.6px">84000.0000</div><div class="pl" style="top:312.6px">80000.0000</div><div class="pl" style="top:348.7px">76000.0000</div><div class="pl" style="top:384.8px">72000.0000</div><div class="pl" style="top:420.9px">68000.0000</div><div class="pl" style="top:457.0px">64000.0000</div><div class="pl" style="top:493.1px">60000.0000</div><div class="pl" style="top:529.2px">56000.0000</div><div class="pl" style="top:565.3px">52000.0000</div><div class="pl" style="top:601.4px">48000.0000</div><div class="pl" style="top:637.5px">44000.0000</div><div class="pl" style="top:673.5px">40000.0000</div><div class="pl" style="top:709.6px">36000.0000</div><div class="pl" style="top:745.7px">32000.0000</div><div class="pl" style="top:781.8px">28000.0000</div><div class="pl" style="top:817.9px">24000.0000</div><div class="pl" style="top:854.0px">20000.0000</div><div class="pl" style="top:890.1px">16000.0000</div>
<div id="cur">107450.5074</div>
<div class="tl" style="left:40.5px">Sep</div><div class="tl" style="left:131.2px">Nov</div><div class="tl b" style="left:222.0px">2021</div><div class="tl" style="left:309.7px">Mar</div><div class="tl" style="left:400.5px">May</div><div class="tl" style="left:491.2px">Jul</div><div class="tl" style="left:583.4px">Sep</div><div class="tl" style="left:674.2px">Nov</div><div class="tl b" style="left:764.9px">2022</div><div class="tl" style="left:852.7px">Mar</div><div class="tl" style="left:943.4px">May</div><div class="tl" style="left:1034.2px">Jul</div><div class="tl" style="left:1126.4px">Sep</div><div class="tl" style="left:1217.1px">Nov</div><div class="tl b" style="left:1307.9px">2023</div><div class="tl" style="left:1395.6px">Mar</div>
<div id="b64">64 bars, 64d</div>
<div id="b94">94 bars, 94d</div>
<div id="tv">TradingView</div>
</body></html>
